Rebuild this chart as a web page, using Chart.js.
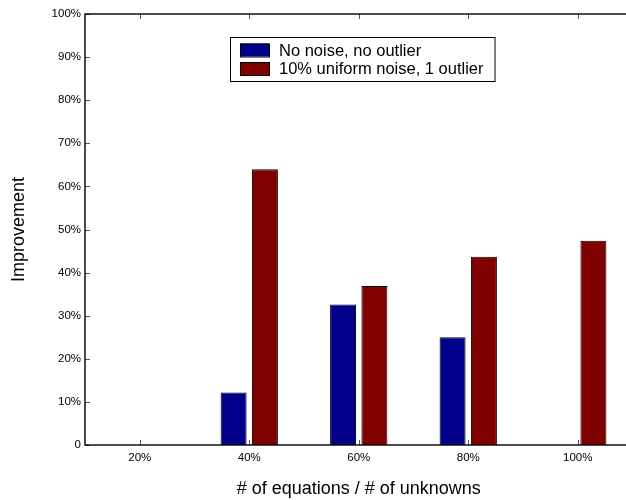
<!DOCTYPE html>
<html>
<head>
<meta charset="utf-8">
<script src="https://cdn.jsdelivr.net/npm/chart.js@4/dist/chart.umd.min.js"></script>
<style>
html, body { margin: 0; padding: 0; overflow: hidden; background: #fff; }
#wrap { width: 634px; height: 500px; }
</style>
</head>
<body>
<div id="wrap"><canvas id="chart" width="634" height="500"></canvas></div>
<script>
// data
const categories = ["20%", "40%", "60%", "80%", "100%"];
const seriesNames = ["No noise, no outlier", "10% uniform noise, 1 outlier"];
const noNoise = [0, 12.2, 32.6, 25.0, 0];
const withNoise = [0, 64.0, 36.9, 43.7, 47.4];
const yTickValues = [0, 10, 20, 30, 40, 50, 60, 70, 80, 90, 100];

const seriesColors = ["#00008b", "#800000"];
const fontFamily = "'Liberation Sans', Arial, Helvetica, sans-serif";

// box + inward tick marks, matlab style
const framePlugin = {
    id: "frame",
    afterDraw(chart) {
        const ctx = chart.ctx;
        const a = chart.chartArea;
        const xs = chart.scales.x;
        const ys = chart.scales.y;
        ctx.save();
        ctx.strokeStyle = "#555";
        ctx.lineWidth = 1;
        ctx.beginPath();
        yTickValues.forEach(v => {
            const y = Math.round(ys.getPixelForValue(v)) + 0.5;
            ctx.moveTo(a.left, y); ctx.lineTo(a.left + 5, y);
            ctx.moveTo(a.right, y); ctx.lineTo(a.right - 5, y);
        });
        categories.forEach((c, i) => {
            const x = Math.round(xs.getPixelForTick(i)) + 0.5;
            ctx.moveTo(x, a.bottom); ctx.lineTo(x, a.bottom - 5);
            ctx.moveTo(x, a.top); ctx.lineTo(x, a.top + 5);
        });
        ctx.stroke();
        ctx.strokeStyle = "#000";
        ctx.lineWidth = 1.4;
        ctx.strokeRect(a.left, a.top, a.right - a.left, a.bottom - a.top);
        ctx.restore();
    }
};

// legend box inside the plot
const boxLegendPlugin = {
    id: "boxLegend",
    afterDraw(chart) {
        const ctx = chart.ctx;
        const left = 230, top = 37, rowH = 18.5;
        const swW = 29, swH = 13;
        ctx.save();
        ctx.font = "16.5px " + fontFamily;
        let maxW = 0;
        chart.data.datasets.forEach(ds => { maxW = Math.max(maxW, ctx.measureText(ds.label).width); });
        const w = 49 + maxW + 11;
        const h = 44;
        ctx.fillStyle = "#fff";
        ctx.fillRect(left, top, w, h);
        ctx.strokeStyle = "#000";
        ctx.lineWidth = 1;
        ctx.strokeRect(left + 0.5, top + 0.5, w, h);
        chart.data.datasets.forEach((ds, i) => {
            const cy = top + 13 + i * rowH;
            ctx.fillStyle = ds.backgroundColor;
            ctx.fillRect(left + 10, cy - swH / 2, swW, swH);
            ctx.strokeRect(left + 10.5, cy - swH / 2 + 0.5, swW, swH);
            ctx.fillStyle = "#000";
            ctx.textBaseline = "middle";
            ctx.textAlign = "left";
            ctx.fillText(ds.label, left + 49, cy + 1);
        });
        ctx.restore();
    }
};

function zeroNoBorder(c) {
    return c.raw === 0 ? 0 : 1;
}

new Chart("chart", {
    type: "bar",
    data: {
        labels: categories,
        datasets: [{
            label: seriesNames[0],
            data: noNoise,
            backgroundColor: seriesColors[0],
            borderColor: "#000",
            borderWidth: zeroNoBorder,
            categoryPercentage: 0.572,
            barPercentage: 0.83
        }, {
            label: seriesNames[1],
            data: withNoise,
            backgroundColor: seriesColors[1],
            borderColor: "#000",
            borderWidth: zeroNoBorder,
            categoryPercentage: 0.572,
            barPercentage: 0.83
        }]
    },
    options: {
        responsive: false,
        animation: false,
        devicePixelRatio: 1,
        layout: { padding: { top: 14, right: 1.5, left: 0, bottom: 0 } },
        plugins: {
            legend: { display: false },
            tooltip: { enabled: false }
        },
        scales: {
            x: {
                grid: { display: false, drawTicks: false },
                border: { display: false },
                ticks: { color: "#000", padding: 6, font: { family: fontFamily, size: 11.5 } },
                title: {
                    display: true,
                    text: "# of equations / # of unknowns",
                    color: "#000",
                    padding: { top: 0, bottom: 0 },
                    font: { family: fontFamily, size: 18 }
                },
                afterFit(scale) { scale.height = 55; }
            },
            y: {
                min: 0,
                max: 100,
                afterBuildTicks(scale) { scale.ticks = yTickValues.map(v => ({ value: v })); },
                grid: { display: false, drawTicks: false },
                border: { display: false },
                ticks: {
                    color: "#000",
                    padding: 4,
                    font: { family: fontFamily, size: 11.5 },
                    callback: v => v === 0 ? "0" : v + "%"
                },
                title: {
                    display: true,
                    text: "Improvement",
                    color: "#000",
                    padding: { top: 8, bottom: 0 },
                    font: { family: fontFamily, size: 18 }
                },
                afterFit(scale) { scale.width = 85; }
            }
        }
    },
    plugins: [framePlugin, boxLegendPlugin]
});
</script>
</body>
</html>
